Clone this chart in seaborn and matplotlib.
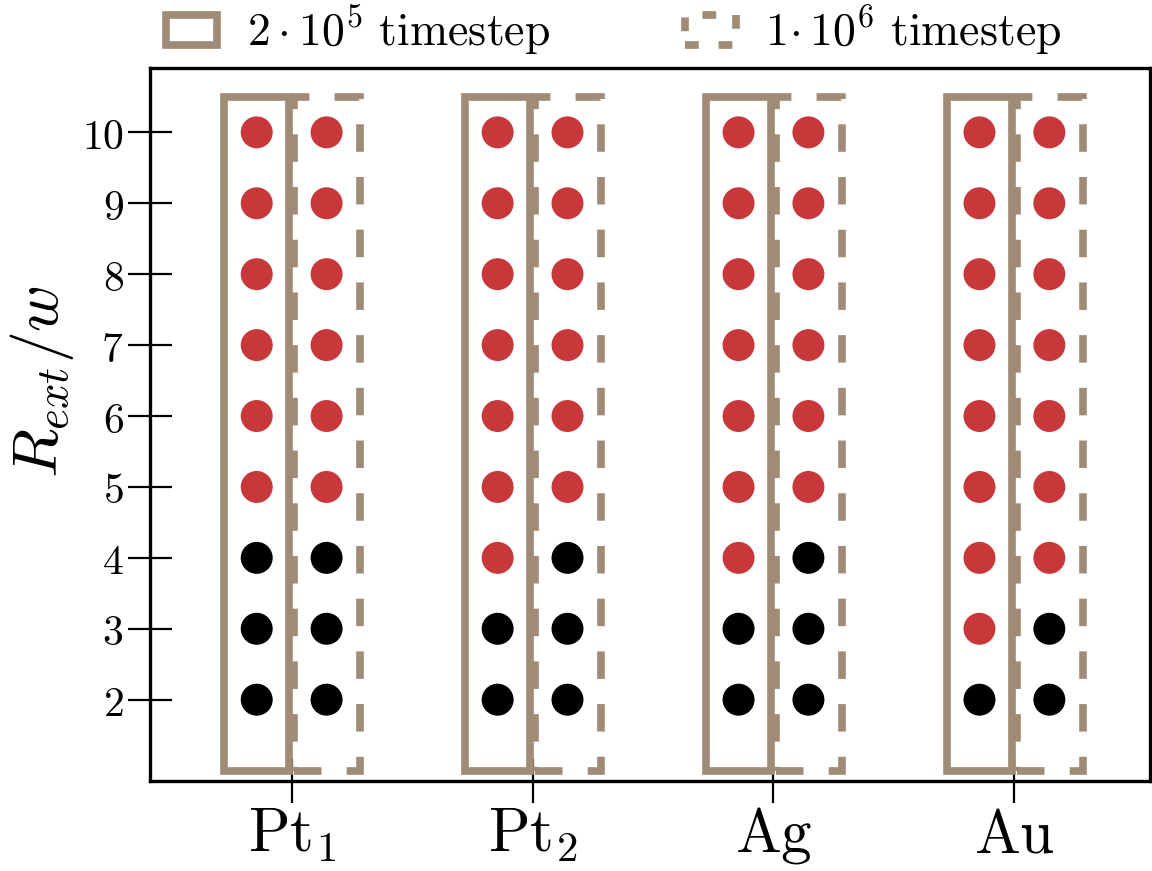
import numpy as np
import pandas as pd
import matplotlib
matplotlib.use("Agg")
import matplotlib.pyplot as plt
from matplotlib.patches import Rectangle, Patch
import seaborn as sns

# ---------------- data ----------------
metals = ["Pt1", "Pt2", "Ag", "Au"]
metal_labels = [r"$\mathrm{Pt}_1$", r"$\mathrm{Pt}_2$", r"$\mathrm{Ag}$", r"$\mathrm{Au}$"]
r_values = [2, 3, 4, 5, 6, 7, 8, 9, 10]
ytick_labels = [r"$2$", r"$3$", r"$4$", r"$5$", r"$6$", r"$7$", r"$8$", r"$9$", r"$10$"]
timesteps = ["2e5", "1e6"]
legend_labels = [r"$2\cdot 10^5\ \mathrm{timestep}$", r"$1\!\cdot 10^6\ \mathrm{timestep}$"]

# state per R value (1 = red / 0 = black), R = 2..10
pt1_2e5 = [0, 0, 0, 1, 1, 1, 1, 1, 1]
pt1_1e6 = [0, 0, 0, 1, 1, 1, 1, 1, 1]
pt2_2e5 = [0, 0, 1, 1, 1, 1, 1, 1, 1]
pt2_1e6 = [0, 0, 0, 1, 1, 1, 1, 1, 1]
ag_2e5 = [0, 0, 1, 1, 1, 1, 1, 1, 1]
ag_1e6 = [0, 0, 0, 1, 1, 1, 1, 1, 1]
au_2e5 = [0, 1, 1, 1, 1, 1, 1, 1, 1]
au_1e6 = [0, 0, 1, 1, 1, 1, 1, 1, 1]

states = {
    ("Pt1", "2e5"): pt1_2e5, ("Pt1", "1e6"): pt1_1e6,
    ("Pt2", "2e5"): pt2_2e5, ("Pt2", "1e6"): pt2_1e6,
    ("Ag", "2e5"): ag_2e5, ("Ag", "1e6"): ag_1e6,
    ("Au", "2e5"): au_2e5, ("Au", "1e6"): au_1e6,
}

# ---------------- style ----------------
RED = "#c8373a"
BLACK = "#000000"
BROWN = "#a08b76"
dodge = {"2e5": -0.145, "1e6": 0.145}

sns.set_style("ticks")
plt.rcParams["mathtext.fontset"] = "cm"
plt.rcParams["font.family"] = ["DejaVu Serif"]
plt.rcParams["axes.linewidth"] = 2.4
plt.rcParams["text.color"] = "black"
plt.rcParams["axes.labelcolor"] = "black"
plt.rcParams["xtick.color"] = "black"
plt.rcParams["ytick.color"] = "black"

rows = []
for i, m in enumerate(metals):
    for t in timesteps:
        for r, s in zip(r_values, states[(m, t)]):
            rows.append({"x": i + dodge[t], "R": r, "state": "red" if s else "black"})
df = pd.DataFrame(rows)

fig = plt.figure(figsize=(11.52, 8.71), dpi=100)
ax = fig.add_axes([0.1302, 0.1028, 0.8681, 0.8191])

# boxes
for i, m in enumerate(metals):
    ax.add_patch(Rectangle((i - 0.28, 1.0), 0.27, 9.5, fill=False,
                           edgecolor=BROWN, linewidth=5.5, zorder=1))
    ax.add_patch(Rectangle((i + 0.01, 1.0), 0.275, 9.5, fill=False,
                           edgecolor=BROWN, linewidth=5.5,
                           linestyle=(0, (3.6, 3.3)), zorder=1))

sns.scatterplot(data=df, x="x", y="R", hue="state",
                palette={"red": RED, "black": BLACK},
                s=530, linewidth=0, legend=False, ax=ax, zorder=3)

ax.set_xlim(-0.588, 3.563)
ax.set_ylim(0.847, 10.907)
ax.set_xticks(range(len(metals)))
ax.set_xticklabels(metal_labels, fontsize=44, color="black")
ax.set_yticks(r_values)
ax.set_yticklabels(ytick_labels, fontsize=30, color="black")
ax.tick_params(axis="both", direction="inout", length=32, width=1.6, color="black")
ax.tick_params(axis="x", pad=1)
ax.tick_params(axis="y", pad=3)
ax.set_xlabel("")
ax.set_ylabel(r"$R_{ext}/w$", fontsize=46, labelpad=4, y=0.56, color="black")
for sp in ax.spines.values():
    sp.set_visible(True)
    sp.set_color("black")
    sp.set_linewidth(2.4)

handles = [
    Patch(facecolor="none", edgecolor=BROWN, linewidth=5.5),
    Patch(facecolor="none", edgecolor=BROWN, linewidth=5.5, linestyle=(0, (1.8, 2.6))),
]
fig.legend(handles, legend_labels, loc="center left", bbox_to_anchor=(0.144, 0.9644),
           ncol=2, frameon=False, fontsize=33, handlelength=1.12, handleheight=0.64,
           handletextpad=0.64, columnspacing=2.95, borderpad=0, borderaxespad=0,
           labelcolor="black")

fig.savefig("out.png", dpi=100)
